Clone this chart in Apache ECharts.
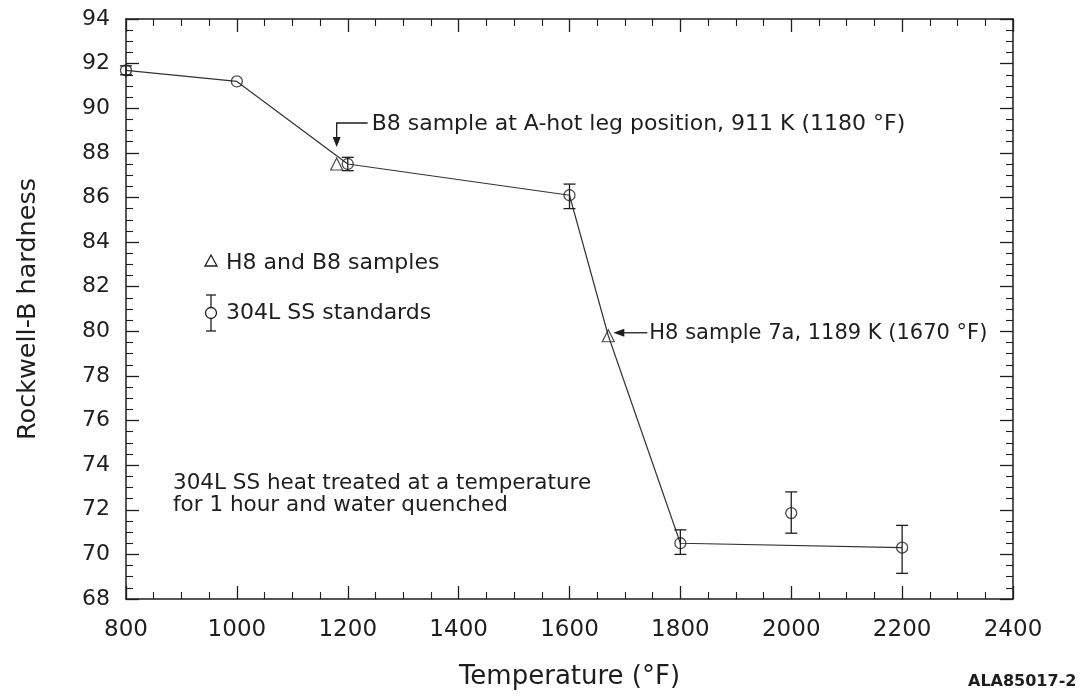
<!DOCTYPE html>
<html>
<head>
<meta charset="utf-8">
<script src="https://cdn.jsdelivr.net/npm/echarts@6/dist/echarts.min.js"></script>
<style>
  html, body { margin: 0; padding: 0; background: #fff; }
  #chart { width: 1082px; height: 697px; }
</style>
</head>
<body>
<div id="chart"></div>
<script>
// Rockwell-B hardness of 304L stainless steel after a 1 h heat treatment
// and water quench, with the H8 / B8 surveillance samples for comparison.

// Axis ranges (deg F, Rockwell-B)
const tempRange = [800, 2400];
const tempStep = 200;
const hardRange = [68, 94];
const hardStep = 2;

// 304L SS standards: mean hardness and error-bar limits
const standardTemps    = [800,  1000, 1200, 1600, 1800, 2000,  2200];
const standardHardness = [91.7, 91.2, 87.5, 86.1, 70.5, 71.85, 70.3];
const standardLow      = [91.5, null, 87.2, 85.5, 70.0, 70.95, 69.15];
const standardHigh     = [91.9, null, 87.8, 86.6, 71.1, 72.8,  71.3];

// H8 and B8 samples
const sampleTemps    = [1180, 1670];
const sampleHardness = [87.5, 79.8];

// Hand-drawn trend through the points
const trendTemps    = [800,  1000, 1200, 1600, 1670, 1800, 2200];
const trendHardness = [91.7, 91.2, 87.5, 86.1, 79.8, 70.5, 70.3];

// Text
const xTitle = 'Temperature (\u00B0F)';
const yTitle = 'Rockwell-B hardness';
const b8Note = 'B8 sample at A-hot leg position, 911 K (1180 \u00B0F)';
const h8Note = 'H8 sample 7a, 1189 K (1670 \u00B0F)';
const legendSamples = 'H8 and B8 samples';
const legendStandards = '304L SS standards';
const treatNote = ['304L SS heat treated at a temperature', 'for 1 hour and water quenched'];
const figureId = 'ALA85017-2';

const INK = '#1e1e1e';
const FONT = 'DejaVu Sans';

const chart = echarts.init(document.getElementById('chart'), null, { renderer: 'canvas' });

const zip = (a, b) => a.map((v, i) => [v, b[i]]);
const errorData = standardTemps
  .map((t, i) => [t, standardLow[i], standardHigh[i]])
  .filter(d => d[1] != null);

function frameAxis(extra) {
  return Object.assign({
    type: 'value',
    axisLine: { show: true, onZero: false, lineStyle: { color: INK, width: 1.5 } },
    axisTick: { show: true, inside: true, length: 13, lineStyle: { color: INK, width: 1.3 } },
    minorTick: { show: true, splitNumber: 4, length: 7, lineStyle: { color: INK, width: 1.1 } },
    splitLine: { show: false },
    minorSplitLine: { show: false }
  }, extra);
}

const plain = v => String(v);

chart.setOption({
  animation: false,
  backgroundColor: '#fff',
  grid: { left: 126, right: 69, top: 19, bottom: 98, containLabel: false },
  xAxis: [
    frameAxis({
      position: 'bottom', min: tempRange[0], max: tempRange[1], interval: tempStep,
      axisLabel: { color: INK, fontFamily: FONT, fontSize: 23, margin: 20, formatter: plain },
      name: xTitle, nameLocation: 'middle', nameGap: 65,
      nameTextStyle: { color: INK, fontFamily: FONT, fontSize: 26 }
    }),
    frameAxis({
      position: 'top', min: tempRange[0], max: tempRange[1], interval: tempStep,
      axisLabel: { show: false }
    })
  ],
  yAxis: [
    frameAxis({
      position: 'left', min: hardRange[0], max: hardRange[1], interval: hardStep,
      axisLabel: { color: INK, fontFamily: FONT, fontSize: 22, margin: 16, formatter: plain },
      name: yTitle, nameLocation: 'middle', nameGap: 85,
      nameTextStyle: { color: INK, fontFamily: FONT, fontSize: 25.5 }
    }),
    frameAxis({
      position: 'right', min: hardRange[0], max: hardRange[1], interval: hardStep,
      axisLabel: { show: false }
    })
  ],
  series: [
    {
      name: 'trend', type: 'line', xAxisIndex: 0, yAxisIndex: 0,
      data: zip(trendTemps, trendHardness),
      showSymbol: false, symbol: 'none', silent: true, z: 1,
      lineStyle: { color: '#333', width: 1.2 }
    },
    {
      name: 'error', type: 'custom', xAxisIndex: 0, yAxisIndex: 0,
      data: errorData, z: 2, silent: true,
      renderItem: function (params, api) {
        const x = api.value(0);
        const lo = api.coord([x, api.value(1)]);
        const hi = api.coord([x, api.value(2)]);
        const cap = 6;
        const style = { stroke: INK, lineWidth: 1.3 };
        return {
          type: 'group',
          children: [
            { type: 'line', shape: { x1: lo[0], y1: lo[1], x2: hi[0], y2: hi[1] }, style: style },
            { type: 'line', shape: { x1: lo[0] - cap, y1: lo[1], x2: lo[0] + cap, y2: lo[1] }, style: style },
            { type: 'line', shape: { x1: hi[0] - cap, y1: hi[1], x2: hi[0] + cap, y2: hi[1] }, style: style }
          ]
        };
      }
    },
    {
      name: '304L SS standards', type: 'scatter', xAxisIndex: 0, yAxisIndex: 0,
      data: zip(standardTemps, standardHardness), z: 3,
      symbol: 'circle', symbolSize: 11,
      itemStyle: { color: 'rgba(0,0,0,0)', borderColor: INK, borderWidth: 1.3 }
    },
    {
      name: 'H8 and B8 samples', type: 'scatter', xAxisIndex: 0, yAxisIndex: 0,
      data: zip(sampleTemps, sampleHardness), z: 3,
      symbol: 'triangle', symbolSize: 12,
      itemStyle: { color: 'rgba(0,0,0,0)', borderColor: INK, borderWidth: 1.2 }
    }
  ]
});

// Annotations and key, anchored to the sample points where they point at them
const b8 = chart.convertToPixel({ xAxisIndex: 0, yAxisIndex: 0 }, [sampleTemps[0], sampleHardness[0]]);
const h8 = chart.convertToPixel({ xAxisIndex: 0, yAxisIndex: 0 }, [sampleTemps[1], sampleHardness[1]]);
const txt = (x, y, s, size, extra) => ({
  type: 'text', x: x, y: y, silent: true,
  style: Object.assign({ text: s, fill: INK, font: size + 'px "' + FONT + '"', textVerticalAlign: 'middle' }, extra || {})
});
const stroke = { stroke: INK, lineWidth: 1.3, fill: null };

const b8TipY = b8[1] - 17;
const b8ElbowY = b8[1] - 41;
const h8TipX = h8[0] + 5;

chart.setOption({
  graphic: [
    // B8 arrow: elbow from the note down to the sample
    { type: 'polyline', silent: true, shape: { points: [[b8[0] + 31, b8ElbowY], [b8[0], b8ElbowY], [b8[0], b8TipY - 8]] }, style: stroke },
    { type: 'polygon', silent: true, shape: { points: [[b8[0] - 4, b8TipY - 10], [b8[0] + 4, b8TipY - 10], [b8[0], b8TipY]] }, style: { fill: INK } },
    txt(b8[0] + 35, b8ElbowY + 1, b8Note, 22),
    // H8 arrow pointing left at the sample
    { type: 'line', silent: true, shape: { x1: h8TipX + 8, y1: h8[1] - 3, x2: h8TipX + 34, y2: h8[1] - 3 }, style: stroke },
    { type: 'polygon', silent: true, shape: { points: [[h8TipX, h8[1] - 3], [h8TipX + 11, h8[1] - 7], [h8TipX + 11, h8[1] + 1]] }, style: { fill: INK } },
    txt(h8TipX + 36, h8[1] - 2, h8Note, 21),
    // Key
    { type: 'polygon', silent: true, shape: { points: [[205, 266], [217, 266], [211, 255]] }, style: stroke },
    txt(226, 263, legendSamples, 22),
    { type: 'line', silent: true, shape: { x1: 211, y1: 295, x2: 211, y2: 331 }, style: stroke },
    { type: 'line', silent: true, shape: { x1: 206, y1: 295, x2: 216, y2: 295 }, style: stroke },
    { type: 'line', silent: true, shape: { x1: 206, y1: 331, x2: 216, y2: 331 }, style: stroke },
    { type: 'circle', silent: true, shape: { cx: 211, cy: 313, r: 5.5 }, style: { stroke: INK, lineWidth: 1.3, fill: '#fff' } },
    txt(226, 313, legendStandards, 22),
    // Treatment note
    txt(173, 483, treatNote[0], 21.5),
    txt(173, 505, treatNote[1], 21.5),
    // Figure identifier
    txt(968, 682, figureId, 16, { font: 'bold 16px "' + FONT + '"' })
  ]
});
</script>
</body>
</html>
